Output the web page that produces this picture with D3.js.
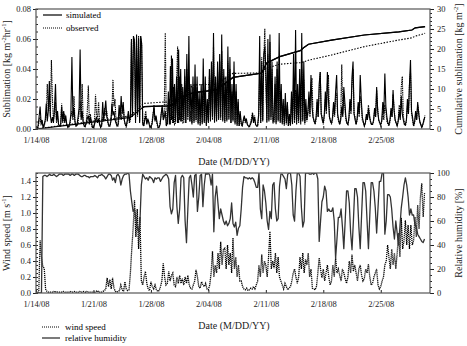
<!DOCTYPE html>
<html><head><meta charset="utf-8">
<script src="https://cdn.jsdelivr.net/npm/d3@7"></script>
<style>
body{margin:0;background:#fff}
svg{font-family:"Liberation Serif","Times New Roman",serif}
</style></head><body>
<svg id="c" width="467" height="346"></svg>
<script>
// ---------------- DATA ----------------
const startDate = "1/14/08";
const endDate = "3/02/08";
const subStepHours = 3;  // sublimation: one value every 3 hours (8 per day)
const metStepHours = 4;  // wind / humidity: one value every 4 hours (6 per day)
const xTickLabels = ["1/14/08","1/21/08","1/28/08","2/04/08","2/11/08","2/18/08","2/25/08"];

// sublimation rate [kg m-2 hr-1], 8 values per day
const simulated = [
0,0,.002,.008,.015,.004,.006,.001,
.003,.006,.017,.005,.012,.032,.009,.004,
.008,.004,.014,.030,.006,.012,.003,.002,
.002,.015,.005,.012,.004,.009,.003,.001,
.002,.004,.010,.048,.008,.014,.005,.002,
.003,.008,.014,.053,.006,.012,.004,.002,
.002,.004,.007,.009,.003,.008,.005,.001,
.001,.003,.006,.008,.004,.007,.003,.001,
.003,.018,.006,.012,.019,.008,.005,.002,
.002,.005,.017,.009,.012,.006,.004,.002,
.003,.016,.008,.022,.010,.018,.006,.003,
.002,.006,.012,.005,.008,.060,.008,.062,
.058,.006,.063,.010,.060,.004,.062,.057,
.004,.002,.006,.009,.003,.007,.004,.001,
.002,.003,.008,.016,.005,.009,.004,.001,
.001,.003,.010,.016,.006,.008,.012,.002,
.004,.025,.003,.042,.006,.047,.004,.030,
.005,.035,.004,.053,.006,.040,.005,.028,
.006,.040,.004,.050,.008,.062,.005,.030,
.004,.035,.005,.043,.006,.035,.004,.025,
.003,.030,.004,.047,.005,.035,.003,.020,
.005,.040,.006,.045,.008,.064,.005,.035,
.006,.045,.007,.050,.008,.063,.006,.040,
.005,.035,.006,.055,.007,.048,.004,.030,
.006,.045,.004,.030,.003,.020,.002,.012,
.004,.002,.006,.009,.005,.007,.003,.002,
.002,.003,.005,.010,.004,.008,.003,.002,
.002,.010,.062,.004,.045,.006,.050,.055,
.040,.005,.060,.006,.063,.008,.045,.005,
.006,.035,.004,.045,.006,.064,.005,.030,
.004,.020,.003,.024,.004,.018,.002,.010,
.003,.025,.004,.050,.006,.066,.005,.030,
.006,.040,.005,.064,.006,.045,.004,.020,
.006,.012,.025,.010,.036,.015,.008,.005,
.004,.008,.020,.008,.030,.038,.010,.006,
.004,.010,.025,.012,.038,.020,.008,.005,
.004,.008,.018,.010,.025,.036,.010,.006,
.003,.006,.015,.008,.028,.018,.008,.004,
.003,.008,.020,.012,.035,.045,.010,.006,
.003,.007,.018,.010,.036,.020,.008,.005,
.002,.004,.010,.006,.014,.008,.005,.003,
.003,.006,.014,.008,.028,.012,.006,.004,
.003,.006,.018,.010,.037,.015,.008,.004,
.003,.006,.014,.008,.026,.012,.006,.004,
.002,.005,.012,.006,.022,.010,.006,.003,
.003,.006,.020,.010,.030,.046,.012,.008,
.002,.005,.012,.006,.018,.010,.005,.003,
.001,.003,.006,.008];

const observed = [
0,0,.001,.005,.008,.003,.004,.001,
.002,.005,.010,.030,.012,.022,.008,.046,
.020,.006,.010,.018,.004,.009,.003,.002,
.002,.017,.004,.008,.010,.006,.003,.002,
.001,.003,.008,.012,.006,.022,.004,.002,
.002,.005,.010,.019,.008,.030,.005,.002,
.001,.005,.012,.029,.006,.010,.003,.001,
.001,.004,.023,.010,.007,.018,.004,.001,
.002,.008,.005,.014,.009,.012,.004,.002,
.002,.006,.012,.033,.015,.020,.005,.002,
.002,.008,.014,.006,.013,.016,.006,.003,
.001,.005,.010,.004,.006,.058,.010,.061,
.060,.004,.059,.008,.062,.005,.062,.056,
.003,.002,.008,.012,.004,.006,.005,.002,
.001,.004,.010,.014,.006,.008,.003,.001,
.002,.004,.010,.014,.008,.012,.064,.003,
.003,.018,.020,.003,.049,.004,.028,.003,
.004,.030,.055,.004,.035,.005,.030,.004,
.004,.035,.004,.040,.006,.035,.005,.012,
.003,.028,.004,.030,.005,.028,.003,.020,
.002,.020,.003,.025,.004,.022,.002,.014,
.004,.035,.005,.040,.006,.055,.004,.030,
.005,.038,.006,.045,.006,.052,.005,.035,
.004,.030,.005,.045,.006,.040,.004,.025,
.005,.038,.003,.025,.002,.018,.002,.010,
.003,.002,.005,.008,.004,.006,.003,.002,
.001,.004,.007,.011,.006,.009,.003,.002,
.002,.008,.035,.004,.048,.005,.045,.067,
.030,.004,.050,.005,.058,.006,.040,.004,
.004,.030,.003,.040,.005,.035,.004,.025,
.003,.016,.002,.020,.003,.016,.002,.008,
.002,.020,.003,.030,.004,.026,.003,.018,
.004,.030,.003,.040,.005,.033,.003,.015,
.005,.010,.020,.008,.030,.034,.008,.006,
.003,.006,.018,.008,.025,.038,.010,.008,
.003,.008,.020,.010,.030,.036,.008,.006,
.003,.006,.015,.008,.022,.024,.008,.005,
.003,.008,.043,.010,.020,.015,.006,.004,
.003,.006,.018,.010,.030,.040,.010,.008,
.003,.006,.015,.008,.022,.017,.006,.004,
.002,.004,.008,.006,.016,.010,.005,.003,
.003,.005,.012,.008,.026,.014,.006,.004,
.002,.005,.012,.006,.016,.012,.005,.003,
.002,.005,.012,.008,.023,.014,.006,.004,
.002,.006,.016,.010,.028,.035,.008,.005,
.002,.005,.016,.010,.030,.038,.010,.006,
.002,.004,.010,.006,.016,.012,.005,.003,
.001,.003,.005,.009];

// cumulative sublimation [kg m-2] at day offsets from start
const cumDays      = [0, 5, 10, 11.5, 13, 13.2, 16, 16.6, 17.7, 19.2, 22, 24, 26.9, 27.5, 28.1, 29.7, 32.2, 32.6, 33.2, 36, 40, 44.2, 45.8, 46.2, 47.4];
const cumSimulated = [0, 1.2, 2.5, 2.9, 5.4, 5.6, 5.8, 6.0, 8.0, 9.1, 9.8, 12.9, 13.8, 14.0, 16.5, 18.1, 19.6, 20.3, 21.2, 22.2, 23.5, 24.3, 24.75, 25.3, 25.6];
const cumObserved  = [0, 1.4, 2.8, 3.3, 6.2, 6.4, 6.8, 7.2, 8.5, 11.0, 11.2, 13.9, 14.0, 14.4, 15.2, 16.2, 16.6, 16.8, 17.2, 18.5, 20.6, 22.25, 22.8, 23.2, 23.9];

// relative humidity [%], 6 values per day
const relHumidity = [
0,0,0,0,0,97,
98,98,97,98,99,98,
98,99,98,97,98,99,
99,99,98,99,99,99,
99,98,99,99,98,99,
99,99,98,97,97,98,
98,97,97,96,97,97,
97,98,97,96,98,98,
99,98,97,95,97,99,
99,98,94,96,92,98,
99,97,90,95,98,99,
99,100,99,85,76,68,
70,62,55,51,60,90,
99,97,95,96,94,97,
96,95,92,96,95,96,
96,93,95,97,98,99,
98,95,72,66,70,92,
98,72,58,70,96,98,
96,60,42,70,96,98,
90,80,98,99,68,80,
98,99,72,90,100,99,
100,98,90,99,51,80,
89,75,62,70,65,60,
57,60,56,58,62,75,
58,55,59,48,54,56,
70,88,97,96,96,95,
96,95,96,95,92,88,
88,100,70,62,90,85,
75,60,53,68,62,90,
92,70,60,62,89,99,
99,97,95,87,99,100,
100,90,65,60,85,100,
100,97,71,55,60,100,
100,100,99,99,100,99,
100,100,95,43,60,76,
80,89,85,68,70,68,
68,71,60,29,45,63,
63,70,55,37,60,85,
85,75,50,36,60,87,
87,80,55,37,65,92,
92,85,60,37,65,92,
92,85,71,50,71,93,
93,100,100,49,60,82,
82,80,70,55,45,60,
50,40,55,71,80,90,
96,90,80,65,70,65,
65,57,55,49,47,45,
43,42,45];

// wind speed [m s-1], 6 values per day
const windSpeed = [
0,0,.02,.66,.45,.33,
.31,.05,.02,.01,.01,.01,
.01,.02,.01,.02,.01,.01,
.01,.01,.02,.01,.01,.01,
.01,.02,.01,.01,.02,.01,
.01,.01,.02,.01,.01,.02,
.01,.02,.01,.01,.01,.01,
.01,.01,.02,.03,.01,.01,
.01,.02,.03,.05,.19,.08,
.17,.05,.19,.06,.02,.01,
.02,.03,.10,.04,.02,.14,
.05,.03,.04,.25,.55,.80,
1.16,.70,1.05,.55,.95,.15,
.10,.20,.27,.12,.05,.03,
.14,.08,.05,.10,.04,.02,
.03,.08,.15,.37,.20,.10,
.12,.27,.15,.22,.25,.10,
.08,.20,.12,.22,.12,.18,
.10,.20,.12,.22,.10,.06,
.05,.10,.15,.29,.20,.08,
.06,.14,.10,.08,.12,.05,
.04,.10,.25,.52,.20,.35,
.25,.50,.30,.64,.35,.55,
.56,.30,.60,.35,.50,.25,
.69,.30,.45,.20,.35,.15,
.15,.08,.05,.04,.06,.03,
.04,.06,.05,.08,.05,.10,
.15,.35,.20,.48,.25,.40,
.35,.20,.45,.77,.30,.40,
.31,.50,.25,.45,.20,.15,
.10,.05,.12,.08,.04,.06,
.08,.15,.25,.30,.20,.12,
.20,.45,.30,.50,.25,.42,
.35,.50,.20,.30,.06,.05,
.04,.08,.25,.44,.30,.19,
.30,.15,.25,.35,.20,.10,
.15,.35,.20,.44,.25,.30,
.22,.15,.30,.25,.18,.12,
.20,.40,.25,.48,.27,.35,
.25,.15,.30,.35,.22,.15,
.18,.30,.25,.36,.20,.10,
.12,.20,.25,.30,.10,.05,
.08,.15,.20,.35,.40,.60,
.45,.30,.55,.35,.50,.30,
.50,.75,.45,.94,.55,.65,
.91,.60,.85,.55,.85,.60,
.65,.95,.70,1.10,.80,1.20,
1.37,.95,1.25];

const topLeftTicks = [0, 0.02, 0.04, 0.06, 0.08];
const topRightTicks = [0, 5, 10, 15, 20, 25, 30];
const botLeftTicks = [0, 0.2, 0.4, 0.6, 0.8, 1.0, 1.2, 1.4];
const botRightTicks = [0, 20, 40, 60, 80, 100];

// ---------------- DRAW ----------------
const svg = d3.select("#c");
const L = 36, R = 430, T1 = 9, B1 = 129, T2 = 173, B2 = 293;
const parse = d3.timeParse("%m/%d/%y");
const t0 = parse(startDate);
const timeAt = (i, step) => new Date(+t0 + i * step * 3600e3);
const dayAt = d => new Date(+t0 + d * 864e5);

const x = d3.scaleTime().domain([t0, parse(endDate)]).range([L, R]);
const ySub = d3.scaleLinear().domain([0, 0.08]).range([B1, T1]);
const yCum = d3.scaleLinear().domain([0, 30]).range([B1, T1]);
const yWind = d3.scaleLinear().domain([0, 1.5]).range([B2, T2]);
const yRH = d3.scaleLinear().domain([0, 100]).range([B2, T2]);

const FS = 8.5;
function styleAxis(g){
  g.attr("font-family", null).attr("font-size", null);
  g.select(".domain").remove();
  g.selectAll("line").attr("stroke", "#222");
  g.selectAll("text").attr("font-size", FS).attr("fill", "#222");
}

function panel(top, bot, yl, yr, lt, rt, lfmt, minorL, minorR){
  const xTickDates = xTickLabels.map(parse);
  svg.append("g").attr("transform", `translate(0,${bot})`)
    .call(d3.axisBottom(x).tickValues(xTickDates).tickFormat((d,i)=>xTickLabels[i]).tickSizeInner(-3).tickSizeOuter(0).tickPadding(8))
    .call(styleAxis);
  svg.append("g").attr("transform", `translate(${L},0)`)
    .call(d3.axisLeft(yl).tickValues(lt).tickFormat(d3.format(lfmt)).tickSizeInner(3).tickSizeOuter(0).tickPadding(2))
    .call(styleAxis);
  svg.append("g").attr("transform", `translate(${L},0)`)
    .call(d3.axisLeft(yl).tickValues(minorL).tickFormat("").tickSizeInner(-2).tickSizeOuter(0))
    .call(styleAxis);
  svg.append("g").attr("transform", `translate(${R},0)`)
    .call(d3.axisRight(yr).tickValues(rt).tickFormat(d3.format("d")).tickSizeInner(4).tickSizeOuter(0).tickPadding(3))
    .call(styleAxis);
  svg.append("g").attr("transform", `translate(${R},0)`)
    .call(d3.axisRight(yr).tickValues(minorR).tickFormat("").tickSizeInner(2).tickSizeOuter(0))
    .call(styleAxis);
}

function clip(id, top, bot){
  svg.append("clipPath").attr("id", id).append("rect")
    .attr("x", L).attr("y", top).attr("width", R - L).attr("height", bot - top);
}
clip("c1", T1, B1); clip("c2", T2, B2);

// ---- top panel
panel(T1, B1, ySub, yCum, topLeftTicks, topRightTicks, ".2f",
      d3.range(0, 0.0801, 0.005), d3.range(0, 30.01, 1));

const g1 = svg.append("g").attr("clip-path", "url(#c1)");
const lineIdx = (ys, step) => d3.line().x((d,i)=>x(timeAt(i, step))).y(d=>ys(d));
const cumLine = d3.line().x((d,i)=>x(dayAt(cumDays[i]))).y(d=>yCum(d));
g1.append("path").datum(cumSimulated).attr("d", cumLine)
  .attr("fill","none").attr("stroke","#000").attr("stroke-width",1.2);
g1.append("path").datum(cumObserved).attr("d", cumLine)
  .attr("fill","none").attr("stroke","#000").attr("stroke-width",1.1).attr("stroke-dasharray","1.5,1.5");
g1.append("path").datum(simulated).attr("d", lineIdx(ySub, subStepHours))
  .attr("fill","none").attr("stroke","#000").attr("stroke-width",1.1).attr("stroke-linejoin","miter");
g1.append("path").datum(observed).attr("d", lineIdx(ySub, subStepHours))
  .attr("fill","none").attr("stroke","#000").attr("stroke-width",1.1).attr("stroke-dasharray","1.4,0.8");
// simulated cumulative line redrawn above the spikes after the late-January event
g1.append("path").datum(cumSimulated.slice(4)).attr("d", d3.line().x((d,i)=>x(dayAt(cumDays[i+4]))).y(d=>yCum(d)))
  .attr("fill","none").attr("stroke","#000").attr("stroke-width",1.2);

svg.append("rect").attr("x", L).attr("y", T1).attr("width", R-L).attr("height", B1-T1)
  .attr("fill","none").attr("stroke","#555").attr("stroke-width",1.2);

// legend top
const leg1 = svg.append("g");
leg1.append("line").attr("x1",43).attr("x2",62).attr("y1",15).attr("y2",15).attr("stroke","#000").attr("stroke-width",1.2);
leg1.append("text").attr("x",66).attr("y",18).attr("font-size",9).text("simulated");
leg1.append("line").attr("x1",43).attr("x2",62).attr("y1",28).attr("y2",28).attr("stroke","#000").attr("stroke-width",1).attr("stroke-dasharray","1,1");
leg1.append("text").attr("x",66).attr("y",31).attr("font-size",9).text("observed");

// ---- bottom panel
panel(T2, B2, yWind, yRH, botLeftTicks, botRightTicks, ".1f",
      d3.range(0, 1.501, 0.05), d3.range(0, 100.1, 5));

const g2 = svg.append("g").attr("clip-path", "url(#c2)");
g2.append("path").datum(windSpeed).attr("d", lineIdx(yWind, metStepHours))
  .attr("fill","none").attr("stroke","#000").attr("stroke-width",1.3).attr("stroke-dasharray","1.2,0.8");
g2.append("path").datum(relHumidity).attr("d", lineIdx(yRH, metStepHours))
  .attr("fill","none").attr("stroke","#333").attr("stroke-width",1.3).attr("stroke-linejoin","round");

svg.append("rect").attr("x", L).attr("y", T2).attr("width", R-L).attr("height", B2-T2)
  .attr("fill","none").attr("stroke","#555").attr("stroke-width",1.2);

// legend bottom
const leg2 = svg.append("g");
leg2.append("line").attr("x1",42).attr("x2",60).attr("y1",327).attr("y2",327).attr("stroke","#000").attr("stroke-width",1).attr("stroke-dasharray","1,1");
leg2.append("text").attr("x",65).attr("y",330).attr("font-size",9).text("wind speed");
leg2.append("line").attr("x1",42).attr("x2",60).attr("y1",338).attr("y2",338).attr("stroke","#333").attr("stroke-width",1.3);
leg2.append("text").attr("x",65).attr("y",341).attr("font-size",9).text("relative humidity");

// ---- titles
function supText(tx, ty, rot, parts, size){
  const t = svg.append("text").attr("transform", `translate(${tx},${ty}) rotate(${rot})`)
    .attr("text-anchor","middle").attr("font-size", size).attr("fill","#222");
  let prevSup = false;
  parts.forEach(([s, sup]) => {
    const ts = t.append("tspan").text(s);
    if (sup) { ts.attr("font-size", size*0.65).attr("dy", -size*0.4); }
    else if (prevSup) { ts.attr("dy", size*0.4); }
    prevSup = sup;
  });
}
supText(10, 69, -90, [["Sublimation [kg m",false],["-2",true],["hr",false],["-1",true],["]",false]], 10);
supText(462, 69, -90, [["Cumulative sublimation [kg m",false],["-2",true],["]",false]], 10);
supText(10, 233, -90, [["Wind speed [m s",false],["-1",true],["]",false]], 10);
supText(462, 233, -90, [["Relative humidity [%]",false]], 10);
supText(234, 164.5, 0, [["Date (M/DD/YY)",false]], 10);
supText(234, 328.5, 0, [["Date (M/DD/YY)",false]], 10);
</script>
</body></html>
